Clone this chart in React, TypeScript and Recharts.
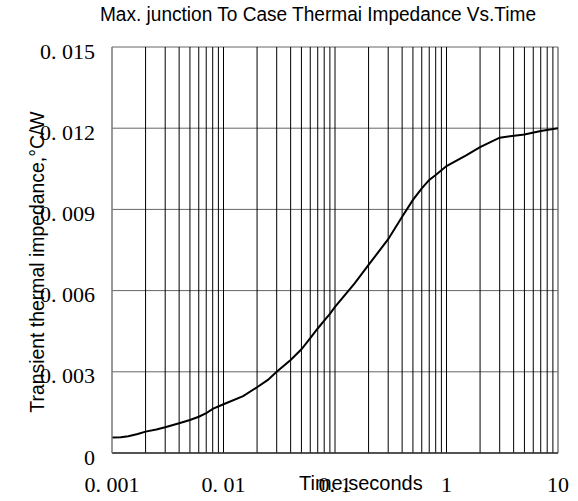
import React from "react";
import {
  LineChart, Line, XAxis, YAxis, CartesianGrid, ReferenceLine, Label,
} from "recharts";

// time (s) vs transient thermal impedance (°C/W)
const times = [
  0.001, 0.0012, 0.0014, 0.0017, 0.002, 0.0025, 0.003, 0.004, 0.005, 0.006,
  0.007, 0.008, 0.01, 0.015, 0.02, 0.025, 0.03, 0.04, 0.05, 0.06,
  0.07, 0.08, 0.09, 0.1, 0.15, 0.2, 0.3, 0.4, 0.5, 0.6,
  0.7, 0.8, 1, 1.5, 2, 3, 5, 7, 10,
];
const impedance = [
  0.00057, 0.00058, 0.00062, 0.0007, 0.00079, 0.00087, 0.00095, 0.0011, 0.00122, 0.00134,
  0.00147, 0.00163, 0.0018, 0.0021, 0.00243, 0.0027, 0.003, 0.00344, 0.00383, 0.00424,
  0.0046, 0.00489, 0.00514, 0.0054, 0.00627, 0.00695, 0.0079, 0.00873, 0.00935, 0.00978,
  0.01009, 0.01027, 0.0106, 0.011, 0.0113, 0.01165, 0.01177, 0.0119, 0.012,
];

const xTicks = [0.001, 0.01, 0.1, 1, 10];
const xTickLabels = ["0. 001", "0. 01", "0. 1", "1", "10"];
const yTicks = [0, 0.003, 0.006, 0.009, 0.012, 0.015];
const yTickLabels = ["0", "0. 003", "0. 006", "0. 009", "0. 012", "0. 015"];

// log grid lines inside the plot
const gridTimes = [
  0.002, 0.003, 0.004, 0.005, 0.006, 0.007, 0.008, 0.009, 0.01,
  0.02, 0.03, 0.04, 0.05, 0.06, 0.07, 0.08, 0.09, 0.1,
  0.2, 0.3, 0.4, 0.5, 0.6, 0.7, 0.8, 0.9, 1,
  2, 3, 4, 5, 6, 7, 8, 9,
];

const title = "Max. junction To Case Thermai Impedance Vs.Time";
const xTitle = "Time,seconds";
const yTitle = "Transient thermal impedance,°C/W";

const data = times.map((t, i) => ({ t, z: impedance[i] }));

const serif = "'Liberation Serif', 'Times New Roman', serif";
const sans = "'Liberation Sans', Arial, sans-serif";

function YTick(props: any) {
  const { x, y, payload } = props;
  const i = yTicks.indexOf(payload.value);
  return (
    <text x={x} y={y + 4} textAnchor="end" dominantBaseline="central"
      fontFamily={serif} fontSize={22} fill="#000">
      {yTickLabels[i]}
    </text>
  );
}

function XTick(props: any) {
  const { x, y, payload } = props;
  const i = xTicks.indexOf(payload.value);
  return (
    <text x={x} y={y - 1} textAnchor="middle" dominantBaseline="central"
      fontFamily={serif} fontSize={22} fill="#000">
      {xTickLabels[i]}
    </text>
  );
}

export default function App() {
  return (
    <div style={{ position: "absolute", left: 0, top: 0, width: 578, height: 501, background: "#fff" }}>
      <svg width={578} height={40} style={{ position: "absolute", left: 0, top: 0 }}>
        <text x={100} y={21} fontFamily={sans} fontSize={20} fill="#000"
          textLength={436} lengthAdjust="spacingAndGlyphs">
          {title}
        </text>
      </svg>
      <LineChart width={578} height={501} data={data}
        margin={{ top: 47, right: 20, bottom: 8, left: 52 }}>
        <CartesianGrid vertical={false} stroke="#666" strokeWidth={1} />
        {gridTimes.map((v) => (
          <ReferenceLine key={v} x={v} stroke="#000" strokeWidth={1} />
        ))}
        <ReferenceLine x={10} stroke="#777" strokeWidth={1.5} />
        <XAxis dataKey="t" type="number" scale="log" domain={[0.001, 10]}
          ticks={xTicks} allowDataOverflow height={40}
          tickLine={false} tickSize={0} tickMargin={32}
          axisLine={{ stroke: "#333", strokeWidth: 1.5 }} tick={<XTick />}>
          <Label content={(p: any) => {
            const vb = p.viewBox;
            return (
              <text x={vb.x + vb.width * 0.558} y={vb.y + 37} textAnchor="middle"
                fontFamily={sans} fontSize={20} fill="#000">
                {xTitle}
              </text>
            );
          }} />
        </XAxis>
        <YAxis type="number" domain={[0, 0.015]} ticks={yTicks} width={60}
          tickLine={false} tickSize={0} tickMargin={17}
          axisLine={{ stroke: "#777", strokeWidth: 1.5 }} tick={<YTick />}>
          <Label content={(p: any) => {
            const vb = p.viewBox;
            return (
              <text transform={`translate(${vb.x - 8}, ${vb.y + vb.height / 2 + 12}) rotate(-90)`}
                textAnchor="middle" fontFamily={sans} fontSize={19.4} fill="#000">
                {yTitle}
              </text>
            );
          }} />
        </YAxis>
        <Line dataKey="z" type="linear" stroke="#000" strokeWidth={2}
          dot={false} isAnimationActive={false} />
      </LineChart>
    </div>
  );
}
